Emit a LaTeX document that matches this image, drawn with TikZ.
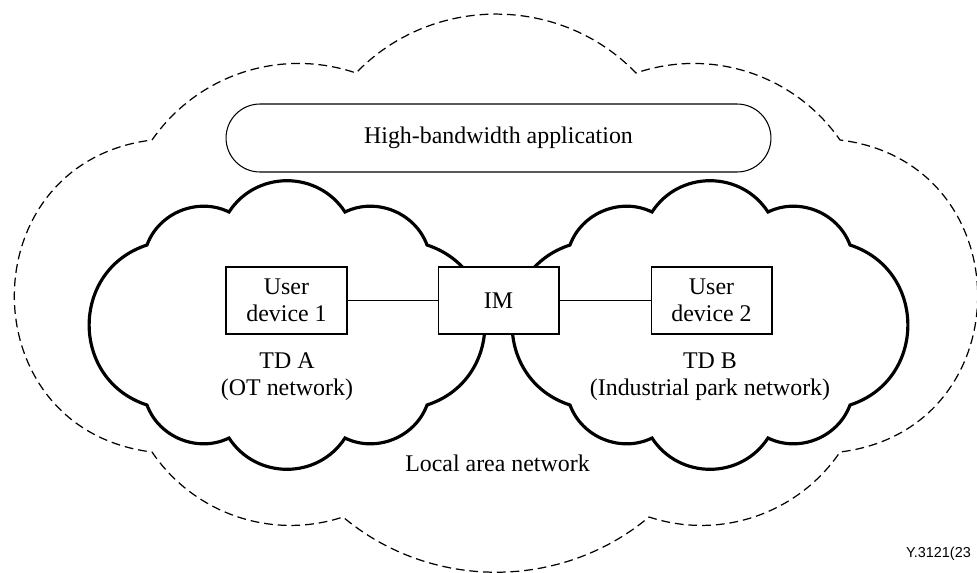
\documentclass[tikz,border=0pt]{standalone}
\usepackage{fontspec}
\setmainfont{Liberation Serif}
\newfontfamily\figlabelfont{Liberation Sans}
\usetikzlibrary{positioning}
\tikzset{%
  box/.style={draw, line width=0.6pt, fill=white, align=center,
    minimum width=2.42cm, minimum height=1.34cm, inner sep=0pt},
  app/.style={draw, line width=0.6pt, rounded corners=0.68cm,
    minimum width=10.9cm, minimum height=1.36cm},
  tdtext/.style={align=center},
  link/.style={line width=0.6pt},
  lan/.style={line width=0.7pt, dash pattern=on 5pt off 2.8pt},
  td/.style={line width=1.8pt},
  tdcloud/.pic={
    \draw[td] (-140,-80) to[bend left=48] (-58,-113)
      to[bend left=57, looseness=1.1] (58,-113)
      to[bend left=48] (140,-80)
      to[bend left=72, looseness=1.3] (140,80)
      to[bend left=48] (58,113)
      to[bend left=57, looseness=1.1] (-58,113)
      to[bend left=48] (-140,80)
      to[bend left=72, looseness=1.3] (-140,-80) -- cycle;
  }
}
\begin{document}
\begin{tikzpicture}[x=0.02cm, y=-0.02cm, font=\fontsize{13.6}{15.5}\selectfont]
  \useasboundingbox (0,0) rectangle (977,572);

  % local area network
  \begin{scope}[shift={(496,295)}]
    \draw[lan] (-344,-155) to[bend left=37, looseness=0.95] (-140,-222)
      to[bend left=46] (140,-222)
      to[bend left=37, looseness=0.95] (344,-155)
      to[bend left=83, looseness=1.52] (344,157)
      to[bend left=37, looseness=0.95] (153,222)
      to[bend left=40, looseness=0.96] (-153,222)
      to[bend left=37, looseness=0.95] (-344,157)
      to[bend left=83, looseness=1.52] (-344,-155) -- cycle;
  \end{scope}

  % trust domains
  \pic at (287,325) {tdcloud};
  \pic at (710,325) {tdcloud};

  \node[app] (hba) at (498.5,138) {High-bandwidth application};

  \node[box] (dev1) at (286.5,300.5) {User\\device 1};
  \node[box, right=1.8cm of dev1] (im) {IM};
  \node[box, right=1.82cm of im] (dev2) {User\\device 2};
  \draw[link] (dev1) -- (im);
  \draw[link] (im) -- (dev2);

  \node[tdtext] (tda) at (287,377) {TD A\\(OT network)};
  \node[tdtext] (tdb) at (710,377) {TD B\\(Industrial park network)};
  \node (lanname) at (497.5,463) {Local area network};

  \node[anchor=east, font=\figlabelfont\fontsize{8.2}{9}\selectfont] (figno) at (977,554) {Y.3121(23};
\end{tikzpicture}
\end{document}
